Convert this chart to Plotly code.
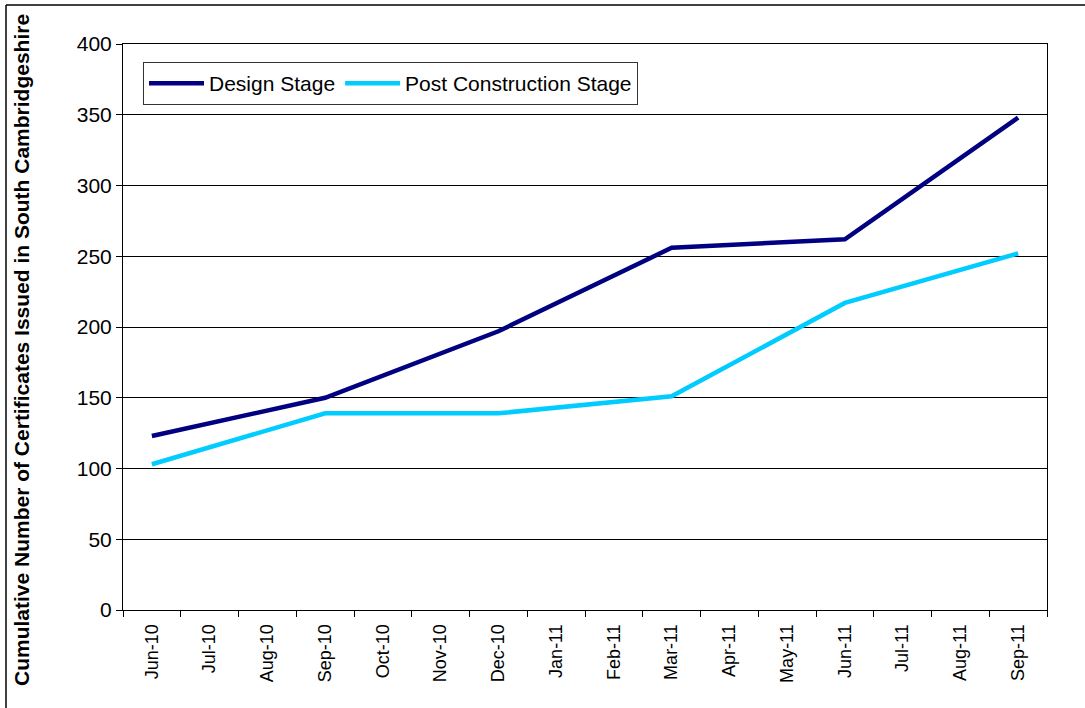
import plotly.graph_objects as go

months = ['Jun-10', 'Jul-10', 'Aug-10', 'Sep-10', 'Oct-10', 'Nov-10', 'Dec-10', 'Jan-11',
          'Feb-11', 'Mar-11', 'Apr-11', 'May-11', 'Jun-11', 'Jul-11', 'Aug-11', 'Sep-11']
design_stage = [123, None, None, 150, None, None, 197, None,
                None, 256, None, None, 262, None, None, 348]
post_construction = [103, None, None, 139, None, None, 139, None,
                     None, 151, None, None, 217, None, None, 252]

W, H = 1085, 708
L, R, T, B = 123, 38, 44, 98
pw, ph = W - L - R, H - T - B

fig = go.Figure()
fig.add_trace(go.Scatter(x=months, y=design_stage, mode='lines', name='Design Stage',
                         connectgaps=True, line=dict(color='#000080', width=4.5)))
fig.add_trace(go.Scatter(x=months, y=post_construction, mode='lines', name='Post Construction Stage',
                         connectgaps=True, line=dict(color='#00CCFF', width=4.5)))

fig.update_layout(
    width=W, height=H,
    margin=dict(l=L, r=R, t=T, b=B, pad=0),
    paper_bgcolor='white', plot_bgcolor='white',
    font=dict(family='Liberation Sans, Arial', color='black'),
    showlegend=True,
    legend=dict(orientation='h', x=(143 - L) / pw, y=(H - B - 62) / ph,
                xanchor='left', yanchor='top', bordercolor='#333', borderwidth=1,
                font=dict(size=21), bgcolor='white', tracegroupgap=0,
                itemwidth=55),
)

fig.update_xaxes(type='category', range=[-0.5, 15.5], tickangle=-90,
                 tickfont=dict(size=18), ticks='outside', ticklen=6, tickson='boundaries',
                 ticklabelstandoff=6,
                 tickcolor='black', showgrid=False, showline=True, linecolor='black',
                 mirror=True, linewidth=1)
fig.update_yaxes(range=[0, 400], dtick=50, tickfont=dict(size=21), ticks='outside',
                 ticklen=6, tickcolor='black', showgrid=True, gridcolor='black', gridwidth=1,
                 showline=True, linecolor='black', mirror=True, linewidth=1,
                 zeroline=False)

# axis title as annotation so it can sit close to the frame
fig.add_annotation(text='<b>Cumulative Number of Certificates Issued in South Cambridgeshire</b>',
                   xref='paper', yref='paper', x=(21 - L) / pw, y=(H - B - 350) / ph,
                   textangle=-90, showarrow=False, font=dict(size=21),
                   xanchor='center', yanchor='middle')

# outer frame (left and top edges only)
fig.add_shape(type='line', xref='paper', yref='paper',
              x0=(6 - L) / pw, x1=(6 - L) / pw, y0=(H - B - 708) / ph, y1=(H - B - 5) / ph,
              line=dict(color='black', width=1.5))
fig.add_shape(type='line', xref='paper', yref='paper',
              x0=(6 - L) / pw, x1=(W - L) / pw, y0=(H - B - 5) / ph, y1=(H - B - 5) / ph,
              line=dict(color='black', width=1.5))

# drop the default page margin so the figure sits at the window origin
fig.write_html('out.html', config={'displayModeBar': False},
               post_script="document.body.style.margin='0';")
